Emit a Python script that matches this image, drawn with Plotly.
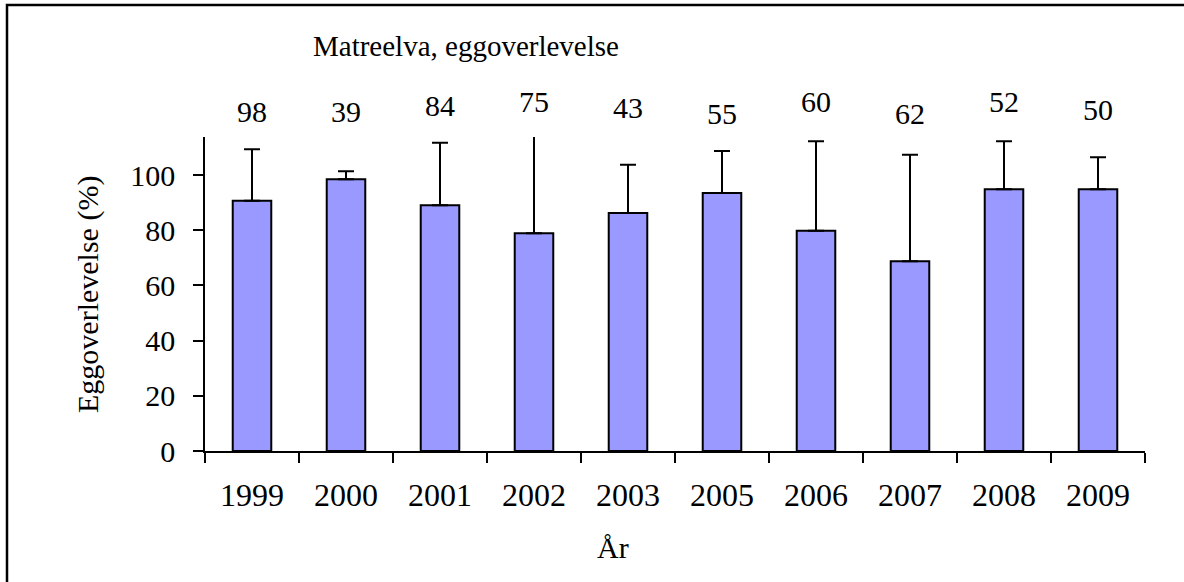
import plotly.graph_objects as go

years = ["1999", "2000", "2001", "2002", "2003", "2005", "2006", "2007", "2008", "2009"]
survival = [90.7, 98.5, 89.1, 78.9, 86.3, 93.5, 79.8, 68.8, 94.9, 94.9]
error_plus = [18.7, 2.9, 22.6, 35.7, 17.4, 15.2, 32.5, 38.6, 17.4, 11.6]
n_labels = ["98", "39", "84", "75", "43", "55", "60", "62", "52", "50"]
y_ticks = [0, 20, 40, 60, 80, 100]

# page geometry (pixels); body margin is removed so figure sits at (0, 0)
W, H = 1184, 582
PL, PR, PT, PB = 205, 1145, 137, 451          # plot area in page pixels
L, T = PL, PT
R, B = W - PR, H - PB
PW, PH = PR - PL, PB - PT

def px_x(px):
    return (px - PL) / PW

def px_y(py):
    return (PB - py) / PH

label_y_px = [112, 111, 105, 101, 107, 113, 102, 113, 101, 110]

FONT = "Liberation Serif, Times New Roman, serif"

fig = go.Figure()
fig.add_trace(go.Bar(
    x=years, y=survival,
    marker=dict(color="#9999FF", line=dict(color="black", width=2)),
    error_y=dict(type="data", symmetric=False, array=error_plus,
                 arrayminus=[0] * len(years), color="black", thickness=2, width=8),
    cliponaxis=False,
))

annotations = []
for i, (lab, ly) in enumerate(zip(n_labels, label_y_px)):
    annotations.append(dict(x=i, xref="x", y=px_y(ly), yref="paper", text=lab,
                            showarrow=False, font=dict(family=FONT, size=30, color="black"),
                            xanchor="center", yanchor="middle"))

annotations.append(dict(x=px_x(466), y=px_y(46), xref="paper", yref="paper",
                        text="Matreelva, eggoverlevelse", showarrow=False,
                        font=dict(family=FONT, size=29, color="black"),
                        xanchor="center", yanchor="middle"))
annotations.append(dict(x=px_x(613), y=px_y(547), xref="paper", yref="paper",
                        text="År", showarrow=False,
                        font=dict(family=FONT, size=30, color="black"),
                        xanchor="center", yanchor="middle"))
annotations.append(dict(x=px_x(88), y=px_y(295), xref="paper", yref="paper",
                        text="Eggoverlevelse (%)", showarrow=False, textangle=-90,
                        font=dict(family=FONT, size=30, color="black"),
                        xanchor="center", yanchor="middle"))

fig.update_layout(
    width=W, height=H,
    margin=dict(l=L, r=R, t=T, b=B),
    paper_bgcolor="white", plot_bgcolor="white",
    showlegend=False,
    bargap=0.59,
    font=dict(family=FONT, size=30, color="black"),
    annotations=annotations,
    shapes=[dict(type="rect", xref="paper", yref="paper",
                 x0=px_x(7), x1=px_x(1400), y0=px_y(800), y1=px_y(5),
                 line=dict(color="black", width=2.5), layer="below")],
)
fig.update_xaxes(
    type="category", categoryorder="array", categoryarray=years,
    range=[-0.5, len(years) - 0.5],
    showline=True, linecolor="black", linewidth=1.5,
    ticks="outside", tickson="boundaries", ticklen=10, tickwidth=1.5, tickcolor="black",
    showgrid=False, zeroline=False, ticklabelstandoff=15, tickangle=0,
    tickfont=dict(family=FONT, size=32, color="black"),
)
fig.update_yaxes(
    range=[0, 113.8], tickvals=y_ticks, showline=True, linecolor="black", linewidth=1.5,
    ticks="outside", ticklen=10, tickwidth=1.5, tickcolor="black",
    showgrid=False, zeroline=False, ticklabelstandoff=12,
    tickfont=dict(family=FONT, size=30, color="black"),
)

fig.write_html("out.html", config={"displayModeBar": False},
               post_script="document.body.style.margin='0';document.body.style.overflow='hidden';")
